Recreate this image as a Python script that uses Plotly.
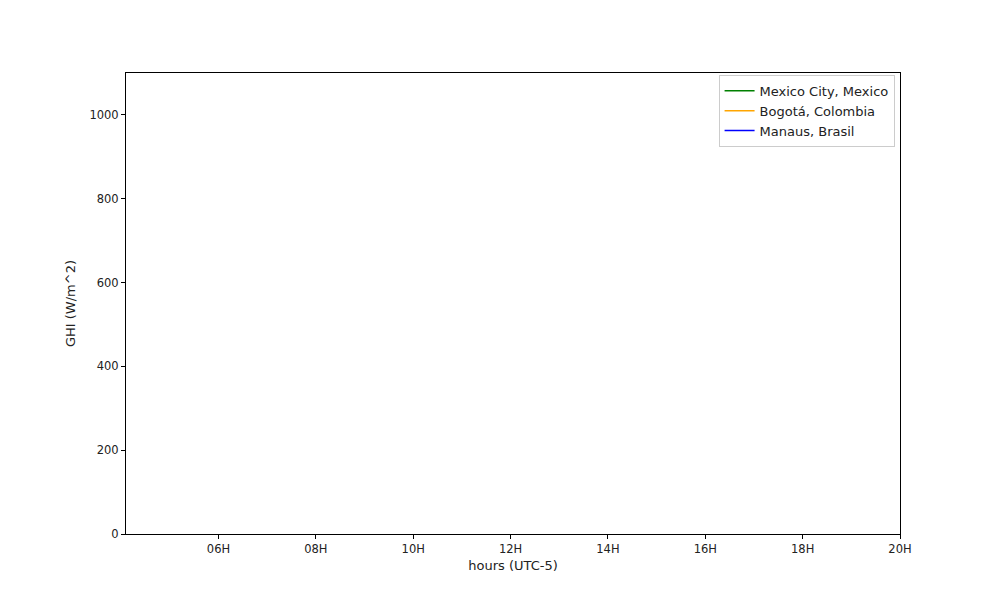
import plotly.graph_objects as go

# Data (the reference frame shows no plotted values yet)
cities = ["Mexico City, Mexico", "Bogotá, Colombia", "Manaus, Brasil"]
colors = ["green", "orange", "blue"]
hours_mexico, ghi_mexico = [None], [None]
hours_bogota, ghi_bogota = [None], [None]
hours_manaus, ghi_manaus = [None], [None]
xs = [hours_mexico, hours_bogota, hours_manaus]
ys = [ghi_mexico, ghi_bogota, ghi_manaus]

tick_vals = ["2024-01-01 06:00", "2024-01-01 08:00", "2024-01-01 10:00", "2024-01-01 12:00",
             "2024-01-01 14:00", "2024-01-01 16:00", "2024-01-01 18:00", "2024-01-01 20:00"]
tick_text = ["06H", "08H", "10H", "12H", "14H", "16H", "18H", "20H"]
x_range = ["2024-01-01 04:06", "2024-01-01 20:00"]

fig = go.Figure()
for name, c, x, y in zip(cities, colors, xs, ys):
    fig.add_trace(go.Scatter(x=x, y=y, mode="lines", name=name,
                             line=dict(color=c, width=1.5), showlegend=True))

font = "DejaVu Sans"
fig.update_layout(
    width=1000, height=600,
    paper_bgcolor="white", plot_bgcolor="white",
    margin=dict(l=118, r=108, t=65, b=74),
    font=dict(family=font, size=11.5, color="#222"),
    showlegend=True,
    legend=dict(x=0.993, y=0.996, xanchor="right", yanchor="top",
                bgcolor="white", bordercolor="#ccc", borderwidth=1,
                font=dict(size=13), tracegroupgap=0),
    xaxis=dict(type="date", range=x_range, tickvals=tick_vals, ticktext=tick_text,
               showgrid=False, zeroline=False, showline=True, linecolor="black",
               linewidth=1, mirror=True, ticks="outside", ticklen=4, tickcolor="black",
               title=dict(text="hours (UTC-5)", standoff=6, font=dict(size=13))),
    yaxis=dict(range=[0, 1100], tickvals=[0, 200, 400, 600, 800, 1000],
               showgrid=False, zeroline=False, showline=True, linecolor="black",
               linewidth=1, mirror=True, ticks="outside", ticklen=4, tickcolor="black",
               title=dict(text="GHI (W/m^2)", standoff=10, font=dict(size=13))),
)
fig.write_html("out.html")
